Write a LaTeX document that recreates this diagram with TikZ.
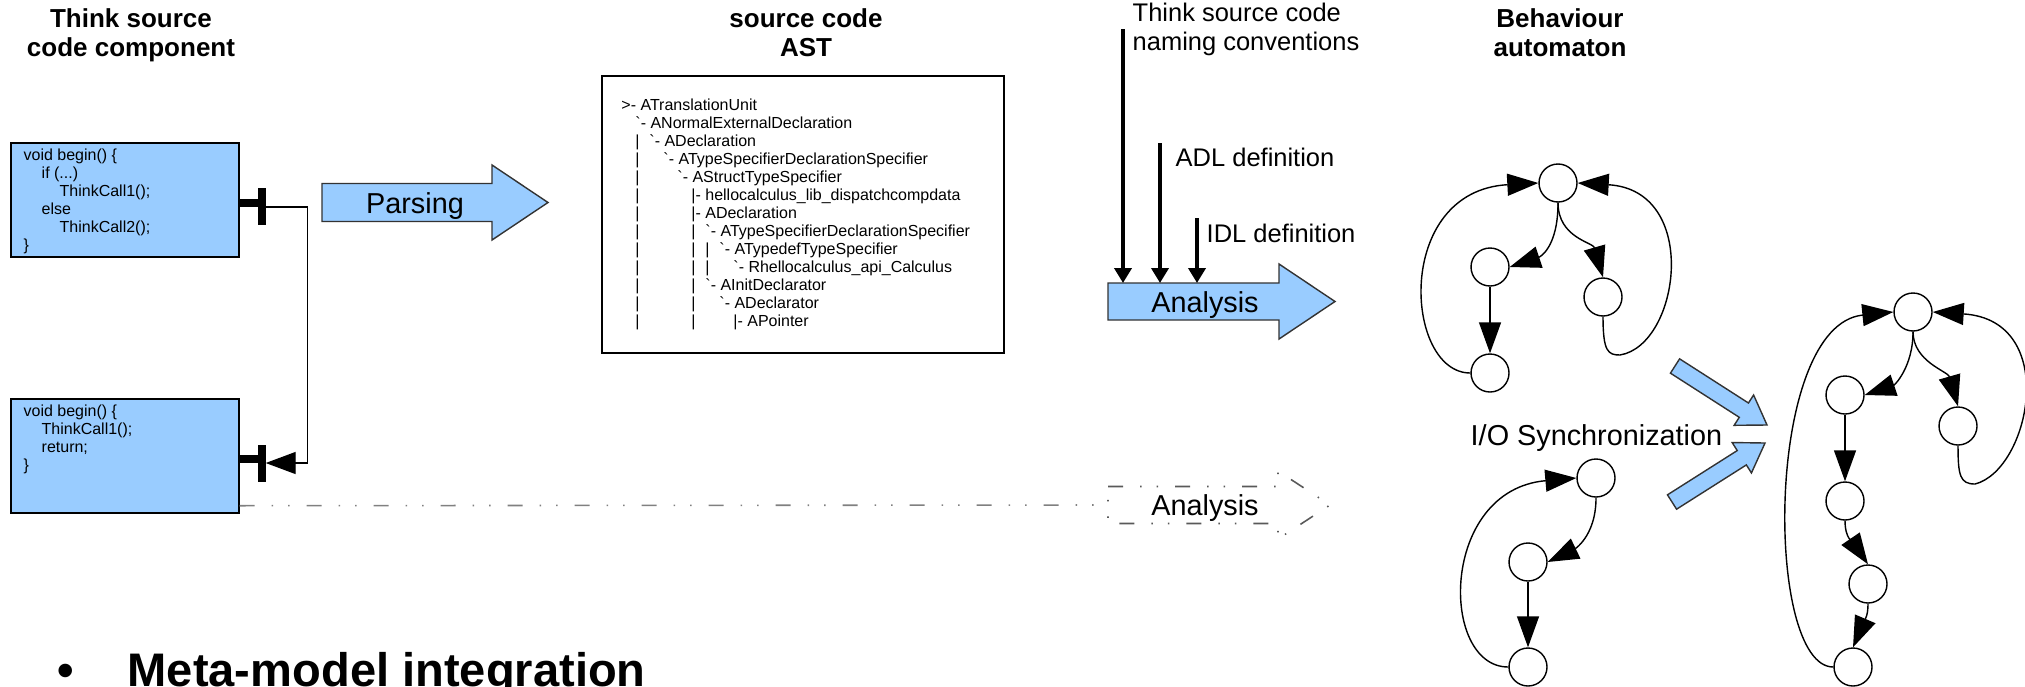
\documentclass[tikz,border=0pt]{standalone}
\usepackage{fontspec}
\setmainfont{Liberation Sans}
\usetikzlibrary{arrows.meta,calc}

\definecolor{flowblue}{HTML}{99CCFF}
\newlength\aststep
\setlength\aststep{1.4mm}
\newcommand\lv[2]{\makebox[0pt][l]{\hspace*{#1\aststep}#2}}
\newcommand\astgrave{\textasciigrave}
% block arrow: style, tail x, head x, tip x, mid y, half body, half head
\newcommand\blockarrow[7]{\draw[#1] (#2,#5-#6) -- (#3,#5-#6) -- (#3,#5-#7) -- (#4,#5) -- (#3,#5+#7) -- (#3,#5+#6) -- (#2,#5+#6) -- cycle;}
% slanted block arrow from tail #1 to tip #2
\newcommand\syncarrow[2]{%
  \coordinate (#1h) at ($(#2)!2.75mm!(#1)$);
  \draw[bigflow] ($(#1)!0.85mm!90:(#2)$) -- ($(#1h)!0.85mm!90:(#2)$) -- ($(#1h)!1.8mm!90:(#2)$) -- (#2)
    -- ($(#1h)!1.8mm!-90:(#2)$) -- ($(#1h)!0.85mm!-90:(#2)$) -- ($(#1)!0.85mm!-90:(#2)$) -- cycle;}

\tikzset{
  heading/.style={font=\fontsize{7.4}{8.25}\selectfont\bfseries, align=center, inner sep=0pt, anchor=base},
  comp/.style={draw, fill=flowblue, line width=0.4pt, minimum width=22.8mm, minimum height=11.4mm, inner sep=0pt},
  codetext/.style={font=\fontsize{4.55}{5.12}\selectfont, align=left, inner sep=0pt, anchor=base west},
  asttext/.style={font=\fontsize{4.55}{5.14}\selectfont, inner sep=0pt, anchor=base west},
  flowtext/.style={font=\fontsize{8.2}{9.8}\selectfont, inner sep=0pt, anchor=base},
  feedtext/.style={font=\fontsize{7.25}{7.97}\selectfont, align=left, inner sep=0pt, anchor=base west},
  bigflow/.style={fill=flowblue, draw=black!80, line width=0.4pt},
  ghost/.style={draw=black!65, line width=0.45pt, dash pattern=on 1.5mm off 1.7mm on 0.15mm off 1.5mm on 0.15mm off 1.7mm},
  tbar/.style={line width=0.8mm},
  link/.style={line width=0.4pt, -{Triangle[length=3mm,width=2.2mm]}},
  feed/.style={line width=1.1pt, -{Triangle[length=1.5mm,width=1.7mm]}},
  state/.style={draw, circle, minimum size=3.8mm, inner sep=0pt, line width=0.4pt},
  trans/.style={line width=0.4pt, -{Triangle[length=3.1mm,width=2.2mm]}},
}

\begin{document}
\begin{tikzpicture}[x=0.1mm,y=-0.1mm]
    \useasboundingbox (0,0) rectangle (2025,686);

    % headings (base = last line)
    \node[heading] (hcomp) at (131,56) {Think source\\code component};
    \node[heading] (hast) at (806,56) {source code\\AST};
    \node[heading] (hauto) at (1560,56) {Behaviour\\automaton};

    % source code components
    \node[comp] (comp1) at (125,200) {};
    \node[comp] (comp2) at (125,456) {};
    \node[codetext] (code1) at (23,250) {void begin() \{\\\hspace*{1.8mm}if (...)\\\hspace*{3.6mm}ThinkCall1();\\\hspace*{1.8mm}else\\\hspace*{3.6mm}ThinkCall2();\\\}};
    \node[codetext] (code2) at (23,470) {void begin() \{\\\hspace*{1.8mm}ThinkCall1();\\\hspace*{1.8mm}return;\\\}};

    \draw [tbar] ([yshift=-0.25mm]comp1.east) -- ++(25,0);
    \draw [tbar] ([shift={(22,-12)}]comp1.east) -- ++(0,37);
    \draw [tbar] ([yshift=-0.3mm]comp2.east) -- ++(25,0);
    \draw [tbar] ([shift={(22,-11)}]comp2.east) -- ++(0,37);
    \draw [link] ([shift={(25,7)}]comp1.east) -- ++(43,0) |- ([shift={(26,7)}]comp2.east);

    % parsing
    \blockarrow{bigflow}{322}{492}{548}{202.5}{19}{37.5}
    \node[flowtext] (parse) at (415,213) {Parsing};

    % AST
    \node[draw, line width=0.4pt, minimum width=40.2mm, minimum height=27.7mm, inner sep=0pt] (ast) at (803,214.5) {};
    \foreach \txt [count=\i from 0] in {
        {\lv{0}{>- ATranslationUnit}},
        {\lv{1}{\astgrave- ANormalExternalDeclaration}},
        {\lv{1}{|}\lv{2}{\astgrave- ADeclaration}},
        {\lv{1}{|}\lv{3}{\astgrave- ATypeSpecifierDeclarationSpecifier}},
        {\lv{1}{|}\lv{4}{\astgrave- AStructTypeSpecifier}},
        {\lv{1}{|}\lv{5}{|- hellocalculus\_lib\_dispatchcompdata}},
        {\lv{1}{|}\lv{5}{|- ADeclaration}},
        {\lv{1}{|}\lv{5}{|}\lv{6}{\astgrave- ATypeSpecifierDeclarationSpecifier}},
        {\lv{1}{|}\lv{5}{|}\lv{6}{|}\lv{7}{\astgrave- ATypedefTypeSpecifier}},
        {\lv{1}{|}\lv{5}{|}\lv{6}{|}\lv{8}{\astgrave- Rhellocalculus\_api\_Calculus}},
        {\lv{1}{|}\lv{5}{|}\lv{6}{\astgrave- AInitDeclarator}},
        {\lv{1}{|}\lv{5}{|}\lv{7}{\astgrave- ADeclarator}},
        {\lv{1}{|}\lv{5}{|}\lv{8}{|- APointer}}}
        \node[asttext] (ast\i) at (619,110+18.07*\i) {\txt};

    % analysis with its inputs
    \blockarrow{bigflow}{1108}{1279}{1335}{301.5}{18.5}{37.5}
    \node[flowtext] (analysis) at (1205,312) {Analysis};
    \coordinate (antop) at (1108,283);
    \node[feedtext] (conv) at (1132,50) {Think source code\\naming conventions};
    \node[feedtext] (adl) at (1175,166) {ADL definition};
    \node[feedtext] (idl) at (1206,242) {IDL definition};
    \coordinate (f1) at (1123,29);
    \coordinate (f2) at (1160,143);
    \coordinate (f3) at (1197,218);
    \draw [feed] (f1) -- (f1 |- antop);
    \draw [feed] (f2) -- (f2 |- antop);
    \draw [feed] (f3) -- (f3 |- antop);

    % the other component is not analysed yet
    \blockarrow{ghost}{1108}{1278}{1330}{505}{18.5}{34}
    \node[flowtext] (dry) at (1205,515) {Analysis};
    \coordinate (drytail) at (1108,505);
    \draw [ghost, draw=gray] ([yshift=0.8mm]comp2.south east) -- (drytail);

    % first automaton
    \node[state] (q0) at (1558,183) {};
    \node[state] (q1) at (1490,267) {};
    \node[state] (q2) at (1490,373) {};
    \node[state] (q3) at (1603,297) {};
    \draw [trans] (q0.south) .. controls +(0,45) and +(30,-10) .. (q1.east);
    \draw [trans] (q0.south) .. controls +(0,35) and +(-10,-35) .. (q3.north);
    \draw [trans] (q1) -- (q2);
    \draw [trans] (q2.west) .. controls +(-66,0) and +(-145,8) .. (q0.west);
    \draw [trans] (q3.south) .. controls +(0,35) and +(-12,0) .. (1620,355) .. controls +(60,-10) and +(123,7) .. (q0.east);

    % second automaton
    \node[state] (p0) at (1596,478) {};
    \node[state] (p1) at (1528,562) {};
    \node[state] (p2) at (1528,667) {};
    \draw [trans] (p0.south) .. controls +(0,40) and +(25,-12) .. (p1.east);
    \draw [trans] (p1) -- (p2);
    \draw [trans] (p2.west) .. controls +(-69,0) and +(-137,12) .. (p0.west);
    \node[flowtext, anchor=base west] (sync) at (1470,445) {I/O Synchronization};

    % composition
    \coordinate (up0) at (1675,366);
    \coordinate (up1) at (1767,425);
    \coordinate (lo0) at (1672,502);
    \coordinate (lo1) at (1765,443);
    \syncarrow{up0}{up1}
    \syncarrow{lo0}{lo1}

    % composed automaton
    \node[state] (r0) at (1913,312) {};
    \node[state] (r1) at (1845,395) {};
    \node[state] (r2) at (1958,426) {};
    \node[state] (r3) at (1845,501) {};
    \node[state] (r4) at (1868,584) {};
    \node[state] (r5) at (1853,667) {};
    \draw [trans] (r0.south) .. controls +(0,35) and +(30,-10) .. (r1.east);
    \draw [trans] (r0.south) .. controls +(0,30) and +(-10,-35) .. (r2.north);
    \draw [trans] (r1) -- (r3);
    \draw [trans] (r3.south) .. controls +(0,18) and +(-15,-22) .. (r4.north);
    \draw [trans] (r4.south) .. controls +(0,12) and +(12,-28) .. (r5.north);
    \draw [trans] (r5.west) .. controls +(-69,0) and +(-129,13) .. (r0.west);
    \draw [trans] (r2.south) .. controls +(0,30) and +(-15,0) .. (1975,484) .. controls +(55,-14) and +(128,8) .. (r0.east);

    % slide bullet
    \node[anchor=base west, inner sep=0pt, font=\fontsize{13.4}{16}\selectfont\bfseries] (dot) at (57,686) {\textbullet};
    \node[anchor=base west, inner sep=0pt, font=\fontsize{13.4}{16}\selectfont\bfseries] (meta) at (127,686) {Meta-model integration};
\end{tikzpicture}
\end{document}
